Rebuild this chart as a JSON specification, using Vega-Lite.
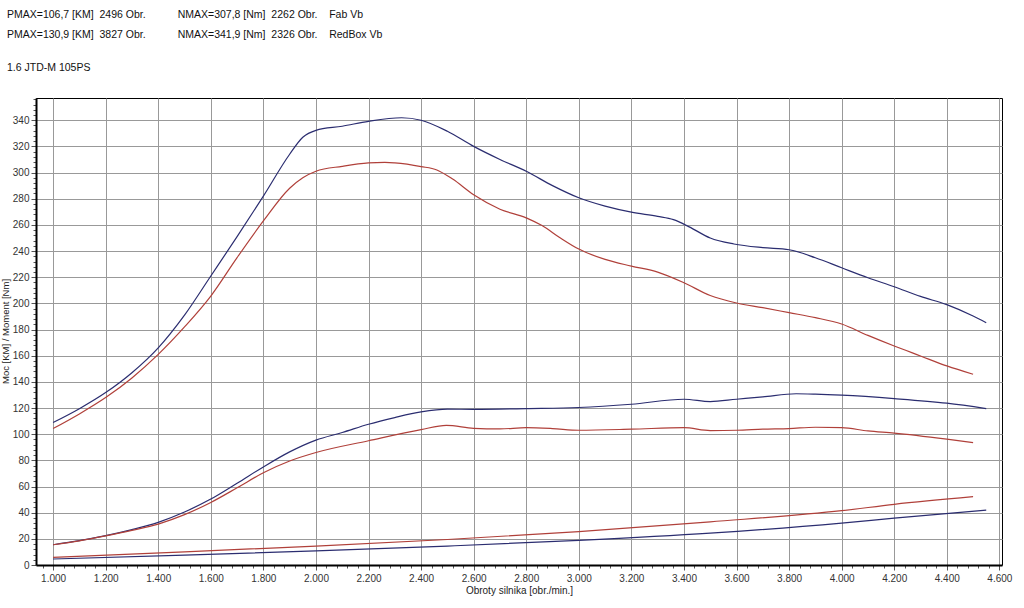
{
  "$schema": "https://vega.github.io/schema/vega-lite/v6.json",
  "width": 966,
  "height": 467,
  "autosize": {"type": "none"},
  "padding": {"left": 36, "top": 98, "right": 22, "bottom": 43},
  "background": "white",
  "config": {
    "font": "Liberation Sans",
    "view": {"stroke": "#000000", "strokeWidth": 1}
  },
  "title": {
    "text": [
      "PMAX=106,7 [KM]\u00a0\u00a02496 Obr.\u00a0\u00a0\u00a0\u00a0\u00a0\u00a0\u00a0\u00a0\u00a0\u00a0\u00a0NMAX=307,8 [Nm]\u00a0\u00a02262 Obr.\u00a0\u00a0\u00a0\u00a0Fab Vb",
      "PMAX=130,9 [KM]\u00a0\u00a03827 Obr.\u00a0\u00a0\u00a0\u00a0\u00a0\u00a0\u00a0\u00a0\u00a0\u00a0\u00a0NMAX=341,9 [Nm]\u00a0\u00a02326 Obr.\u00a0\u00a0\u00a0\u00a0RedBox Vb"
    ],
    "subtitle": "1.6 JTD-M 105PS",
    "anchor": "start",
    "frame": "group",
    "dx": -29,
    "offset": 21,
    "font": "Liberation Sans",
    "fontSize": 10.5,
    "fontWeight": "normal",
    "color": "#111111",
    "lineHeight": 20,
    "subtitleFont": "Liberation Sans",
    "subtitleFontSize": 10.5,
    "subtitleColor": "#111111",
    "subtitlePadding": 22
  },
  "data": {
    "values": [
      {"rpm": 1000, "v": 108.9, "car": "RedBox Vb", "curve": "Moment"},
      {"rpm": 1100, "v": 119.5, "car": "RedBox Vb", "curve": "Moment"},
      {"rpm": 1200, "v": 131.8, "car": "RedBox Vb", "curve": "Moment"},
      {"rpm": 1300, "v": 147, "car": "RedBox Vb", "curve": "Moment"},
      {"rpm": 1400, "v": 166, "car": "RedBox Vb", "curve": "Moment"},
      {"rpm": 1500, "v": 191, "car": "RedBox Vb", "curve": "Moment"},
      {"rpm": 1600, "v": 220.9, "car": "RedBox Vb", "curve": "Moment"},
      {"rpm": 1700, "v": 251, "car": "RedBox Vb", "curve": "Moment"},
      {"rpm": 1800, "v": 282, "car": "RedBox Vb", "curve": "Moment"},
      {"rpm": 1900, "v": 314, "car": "RedBox Vb", "curve": "Moment"},
      {"rpm": 1950, "v": 327, "car": "RedBox Vb", "curve": "Moment"},
      {"rpm": 2000, "v": 332.3, "car": "RedBox Vb", "curve": "Moment"},
      {"rpm": 2100, "v": 335.4, "car": "RedBox Vb", "curve": "Moment"},
      {"rpm": 2200, "v": 339.2, "car": "RedBox Vb", "curve": "Moment"},
      {"rpm": 2326, "v": 341.9, "car": "RedBox Vb", "curve": "Moment"},
      {"rpm": 2400, "v": 340, "car": "RedBox Vb", "curve": "Moment"},
      {"rpm": 2500, "v": 331.6, "car": "RedBox Vb", "curve": "Moment"},
      {"rpm": 2600, "v": 320, "car": "RedBox Vb", "curve": "Moment"},
      {"rpm": 2700, "v": 310, "car": "RedBox Vb", "curve": "Moment"},
      {"rpm": 2800, "v": 301, "car": "RedBox Vb", "curve": "Moment"},
      {"rpm": 2900, "v": 290, "car": "RedBox Vb", "curve": "Moment"},
      {"rpm": 3000, "v": 280.7, "car": "RedBox Vb", "curve": "Moment"},
      {"rpm": 3100, "v": 274.3, "car": "RedBox Vb", "curve": "Moment"},
      {"rpm": 3200, "v": 269.7, "car": "RedBox Vb", "curve": "Moment"},
      {"rpm": 3300, "v": 266.5, "car": "RedBox Vb", "curve": "Moment"},
      {"rpm": 3360, "v": 264, "car": "RedBox Vb", "curve": "Moment"},
      {"rpm": 3420, "v": 258.5, "car": "RedBox Vb", "curve": "Moment"},
      {"rpm": 3500, "v": 250, "car": "RedBox Vb", "curve": "Moment"},
      {"rpm": 3590, "v": 245.4, "car": "RedBox Vb", "curve": "Moment"},
      {"rpm": 3700, "v": 242.6, "car": "RedBox Vb", "curve": "Moment"},
      {"rpm": 3800, "v": 241, "car": "RedBox Vb", "curve": "Moment"},
      {"rpm": 3900, "v": 234.9, "car": "RedBox Vb", "curve": "Moment"},
      {"rpm": 4000, "v": 227.2, "car": "RedBox Vb", "curve": "Moment"},
      {"rpm": 4100, "v": 219.6, "car": "RedBox Vb", "curve": "Moment"},
      {"rpm": 4200, "v": 212.7, "car": "RedBox Vb", "curve": "Moment"},
      {"rpm": 4300, "v": 205.3, "car": "RedBox Vb", "curve": "Moment"},
      {"rpm": 4400, "v": 199, "car": "RedBox Vb", "curve": "Moment"},
      {"rpm": 4500, "v": 190.3, "car": "RedBox Vb", "curve": "Moment"},
      {"rpm": 4550, "v": 185.2, "car": "RedBox Vb", "curve": "Moment"},

      {"rpm": 1000, "v": 104.3, "car": "Fab Vb", "curve": "Moment"},
      {"rpm": 1100, "v": 115.5, "car": "Fab Vb", "curve": "Moment"},
      {"rpm": 1200, "v": 128, "car": "Fab Vb", "curve": "Moment"},
      {"rpm": 1300, "v": 143, "car": "Fab Vb", "curve": "Moment"},
      {"rpm": 1400, "v": 161, "car": "Fab Vb", "curve": "Moment"},
      {"rpm": 1500, "v": 182, "car": "Fab Vb", "curve": "Moment"},
      {"rpm": 1600, "v": 205.6, "car": "Fab Vb", "curve": "Moment"},
      {"rpm": 1700, "v": 235, "car": "Fab Vb", "curve": "Moment"},
      {"rpm": 1800, "v": 263, "car": "Fab Vb", "curve": "Moment"},
      {"rpm": 1900, "v": 288, "car": "Fab Vb", "curve": "Moment"},
      {"rpm": 1950, "v": 296, "car": "Fab Vb", "curve": "Moment"},
      {"rpm": 2000, "v": 301, "car": "Fab Vb", "curve": "Moment"},
      {"rpm": 2100, "v": 304.8, "car": "Fab Vb", "curve": "Moment"},
      {"rpm": 2200, "v": 307.4, "car": "Fab Vb", "curve": "Moment"},
      {"rpm": 2262, "v": 307.8, "car": "Fab Vb", "curve": "Moment"},
      {"rpm": 2300, "v": 307.4, "car": "Fab Vb", "curve": "Moment"},
      {"rpm": 2400, "v": 304.6, "car": "Fab Vb", "curve": "Moment"},
      {"rpm": 2460, "v": 302, "car": "Fab Vb", "curve": "Moment"},
      {"rpm": 2520, "v": 295, "car": "Fab Vb", "curve": "Moment"},
      {"rpm": 2600, "v": 283, "car": "Fab Vb", "curve": "Moment"},
      {"rpm": 2700, "v": 272, "car": "Fab Vb", "curve": "Moment"},
      {"rpm": 2800, "v": 265.4, "car": "Fab Vb", "curve": "Moment"},
      {"rpm": 2860, "v": 259.5, "car": "Fab Vb", "curve": "Moment"},
      {"rpm": 2930, "v": 250, "car": "Fab Vb", "curve": "Moment"},
      {"rpm": 3000, "v": 241.5, "car": "Fab Vb", "curve": "Moment"},
      {"rpm": 3100, "v": 233.6, "car": "Fab Vb", "curve": "Moment"},
      {"rpm": 3200, "v": 228.5, "car": "Fab Vb", "curve": "Moment"},
      {"rpm": 3300, "v": 223.9, "car": "Fab Vb", "curve": "Moment"},
      {"rpm": 3400, "v": 215.8, "car": "Fab Vb", "curve": "Moment"},
      {"rpm": 3500, "v": 206, "car": "Fab Vb", "curve": "Moment"},
      {"rpm": 3600, "v": 200.3, "car": "Fab Vb", "curve": "Moment"},
      {"rpm": 3700, "v": 196.7, "car": "Fab Vb", "curve": "Moment"},
      {"rpm": 3800, "v": 192.9, "car": "Fab Vb", "curve": "Moment"},
      {"rpm": 3900, "v": 189.1, "car": "Fab Vb", "curve": "Moment"},
      {"rpm": 4000, "v": 184.2, "car": "Fab Vb", "curve": "Moment"},
      {"rpm": 4100, "v": 175.5, "car": "Fab Vb", "curve": "Moment"},
      {"rpm": 4200, "v": 167.4, "car": "Fab Vb", "curve": "Moment"},
      {"rpm": 4300, "v": 159.8, "car": "Fab Vb", "curve": "Moment"},
      {"rpm": 4400, "v": 152.2, "car": "Fab Vb", "curve": "Moment"},
      {"rpm": 4500, "v": 145.8, "car": "Fab Vb", "curve": "Moment"},

      {"rpm": 1000, "v": 15.5, "car": "RedBox Vb", "curve": "Moc"},
      {"rpm": 1100, "v": 18.6, "car": "RedBox Vb", "curve": "Moc"},
      {"rpm": 1200, "v": 22.4, "car": "RedBox Vb", "curve": "Moc"},
      {"rpm": 1300, "v": 27, "car": "RedBox Vb", "curve": "Moc"},
      {"rpm": 1400, "v": 32.6, "car": "RedBox Vb", "curve": "Moc"},
      {"rpm": 1500, "v": 40.5, "car": "RedBox Vb", "curve": "Moc"},
      {"rpm": 1600, "v": 50.4, "car": "RedBox Vb", "curve": "Moc"},
      {"rpm": 1700, "v": 62.5, "car": "RedBox Vb", "curve": "Moc"},
      {"rpm": 1800, "v": 75, "car": "RedBox Vb", "curve": "Moc"},
      {"rpm": 1900, "v": 86.5, "car": "RedBox Vb", "curve": "Moc"},
      {"rpm": 2000, "v": 95.5, "car": "RedBox Vb", "curve": "Moc"},
      {"rpm": 2100, "v": 101.3, "car": "RedBox Vb", "curve": "Moc"},
      {"rpm": 2200, "v": 107.6, "car": "RedBox Vb", "curve": "Moc"},
      {"rpm": 2300, "v": 112.7, "car": "RedBox Vb", "curve": "Moc"},
      {"rpm": 2400, "v": 117, "car": "RedBox Vb", "curve": "Moc"},
      {"rpm": 2500, "v": 119.1, "car": "RedBox Vb", "curve": "Moc"},
      {"rpm": 2600, "v": 119, "car": "RedBox Vb", "curve": "Moc"},
      {"rpm": 2800, "v": 119.6, "car": "RedBox Vb", "curve": "Moc"},
      {"rpm": 3000, "v": 120.4, "car": "RedBox Vb", "curve": "Moc"},
      {"rpm": 3200, "v": 122.9, "car": "RedBox Vb", "curve": "Moc"},
      {"rpm": 3400, "v": 126.7, "car": "RedBox Vb", "curve": "Moc"},
      {"rpm": 3500, "v": 124.9, "car": "RedBox Vb", "curve": "Moc"},
      {"rpm": 3600, "v": 126.7, "car": "RedBox Vb", "curve": "Moc"},
      {"rpm": 3700, "v": 128.5, "car": "RedBox Vb", "curve": "Moc"},
      {"rpm": 3827, "v": 130.9, "car": "RedBox Vb", "curve": "Moc"},
      {"rpm": 3900, "v": 130.6, "car": "RedBox Vb", "curve": "Moc"},
      {"rpm": 4000, "v": 129.8, "car": "RedBox Vb", "curve": "Moc"},
      {"rpm": 4200, "v": 127.2, "car": "RedBox Vb", "curve": "Moc"},
      {"rpm": 4400, "v": 123.7, "car": "RedBox Vb", "curve": "Moc"},
      {"rpm": 4550, "v": 119.6, "car": "RedBox Vb", "curve": "Moc"},

      {"rpm": 1000, "v": 15.5, "car": "Fab Vb", "curve": "Moc"},
      {"rpm": 1100, "v": 18.5, "car": "Fab Vb", "curve": "Moc"},
      {"rpm": 1200, "v": 22.3, "car": "Fab Vb", "curve": "Moc"},
      {"rpm": 1300, "v": 26.5, "car": "Fab Vb", "curve": "Moc"},
      {"rpm": 1400, "v": 31.3, "car": "Fab Vb", "curve": "Moc"},
      {"rpm": 1500, "v": 38.5, "car": "Fab Vb", "curve": "Moc"},
      {"rpm": 1600, "v": 47.8, "car": "Fab Vb", "curve": "Moc"},
      {"rpm": 1700, "v": 59, "car": "Fab Vb", "curve": "Moc"},
      {"rpm": 1800, "v": 70.5, "car": "Fab Vb", "curve": "Moc"},
      {"rpm": 1900, "v": 79.5, "car": "Fab Vb", "curve": "Moc"},
      {"rpm": 2000, "v": 86, "car": "Fab Vb", "curve": "Moc"},
      {"rpm": 2200, "v": 95, "car": "Fab Vb", "curve": "Moc"},
      {"rpm": 2400, "v": 103.5, "car": "Fab Vb", "curve": "Moc"},
      {"rpm": 2496, "v": 106.7, "car": "Fab Vb", "curve": "Moc"},
      {"rpm": 2600, "v": 104.5, "car": "Fab Vb", "curve": "Moc"},
      {"rpm": 2700, "v": 104, "car": "Fab Vb", "curve": "Moc"},
      {"rpm": 2800, "v": 105, "car": "Fab Vb", "curve": "Moc"},
      {"rpm": 2900, "v": 104.3, "car": "Fab Vb", "curve": "Moc"},
      {"rpm": 3000, "v": 103, "car": "Fab Vb", "curve": "Moc"},
      {"rpm": 3200, "v": 103.8, "car": "Fab Vb", "curve": "Moc"},
      {"rpm": 3400, "v": 105, "car": "Fab Vb", "curve": "Moc"},
      {"rpm": 3500, "v": 102.8, "car": "Fab Vb", "curve": "Moc"},
      {"rpm": 3600, "v": 103, "car": "Fab Vb", "curve": "Moc"},
      {"rpm": 3700, "v": 103.8, "car": "Fab Vb", "curve": "Moc"},
      {"rpm": 3800, "v": 104.3, "car": "Fab Vb", "curve": "Moc"},
      {"rpm": 3900, "v": 105.3, "car": "Fab Vb", "curve": "Moc"},
      {"rpm": 4000, "v": 105, "car": "Fab Vb", "curve": "Moc"},
      {"rpm": 4100, "v": 102.5, "car": "Fab Vb", "curve": "Moc"},
      {"rpm": 4200, "v": 100.8, "car": "Fab Vb", "curve": "Moc"},
      {"rpm": 4400, "v": 96.2, "car": "Fab Vb", "curve": "Moc"},
      {"rpm": 4500, "v": 93.6, "car": "Fab Vb", "curve": "Moc"},

      {"rpm": 1000, "v": 5.9, "car": "Fab Vb", "curve": "Straty"},
      {"rpm": 1500, "v": 10, "car": "Fab Vb", "curve": "Straty"},
      {"rpm": 2000, "v": 14.5, "car": "Fab Vb", "curve": "Straty"},
      {"rpm": 2500, "v": 19.5, "car": "Fab Vb", "curve": "Straty"},
      {"rpm": 3000, "v": 25.5, "car": "Fab Vb", "curve": "Straty"},
      {"rpm": 3500, "v": 33, "car": "Fab Vb", "curve": "Straty"},
      {"rpm": 4000, "v": 41.5, "car": "Fab Vb", "curve": "Straty"},
      {"rpm": 4200, "v": 46.4, "car": "Fab Vb", "curve": "Straty"},
      {"rpm": 4500, "v": 52.2, "car": "Fab Vb", "curve": "Straty"},

      {"rpm": 1000, "v": 4.6, "car": "RedBox Vb", "curve": "Straty"},
      {"rpm": 1500, "v": 7.5, "car": "RedBox Vb", "curve": "Straty"},
      {"rpm": 2000, "v": 10.8, "car": "RedBox Vb", "curve": "Straty"},
      {"rpm": 2500, "v": 14.5, "car": "RedBox Vb", "curve": "Straty"},
      {"rpm": 3000, "v": 18.8, "car": "RedBox Vb", "curve": "Straty"},
      {"rpm": 3500, "v": 24.3, "car": "RedBox Vb", "curve": "Straty"},
      {"rpm": 4000, "v": 32, "car": "RedBox Vb", "curve": "Straty"},
      {"rpm": 4200, "v": 35.8, "car": "RedBox Vb", "curve": "Straty"},
      {"rpm": 4550, "v": 42, "car": "RedBox Vb", "curve": "Straty"}
    ]
  },
  "mark": {"type": "line", "interpolate": "monotone", "strokeWidth": 1.2},
  "encoding": {
    "x": {
      "field": "rpm",
      "type": "quantitative",
      "scale": {"domain": [935, 4610], "nice": false, "zero": false},
      "axis": {
        "title": "Obroty silnika [obr./min.]",
        "titleFont": "Liberation Sans",
        "titleFontSize": 10,
        "titleFontWeight": "normal",
        "titleColor": "#222222",
        "titlePadding": 2,
        "values": [960,1000,1040,1080,1120,1160,1200,1240,1280,1320,1360,1400,1440,1480,1520,1560,1600,1640,1680,1720,1760,1800,1840,1880,1920,1960,2000,2040,2080,2120,2160,2200,2240,2280,2320,2360,2400,2440,2480,2520,2560,2600,2640,2680,2720,2760,2800,2840,2880,2920,2960,3000,3040,3080,3120,3160,3200,3240,3280,3320,3360,3400,3440,3480,3520,3560,3600,3640,3680,3720,3760,3800,3840,3880,3920,3960,4000,4040,4080,4120,4160,4200,4240,4280,4320,4360,4400,4440,4480,4520,4560,4600],
        "labelExpr": "datum.value % 200 === 0 ? replace(format(datum.value, ','), ',', '.') : ''",
        "labelOverlap": false,
        "labelFont": "Liberation Sans",
        "labelFontSize": 10,
        "labelColor": "#333333",
        "labelPadding": 3,
        "tickSize": {"condition": {"test": "datum.value % 200 === 0", "value": 5}, "value": 3},
        "tickColor": "#555555",
        "domainColor": "#000000",
        "domainWidth": 2,
        "grid": true,
        "gridColor": "#999999",
        "gridWidth": 1,
        "gridOpacity": {"condition": {"test": "datum.value % 200 === 0", "value": 1}, "value": 0}
      }
    },
    "y": {
      "field": "v",
      "type": "quantitative",
      "scale": {"domain": [0, 357], "nice": false},
      "axis": {
        "title": "Moc [KM] / Moment [Nm]",
        "titleFont": "Liberation Sans",
        "titleFontSize": 9.5,
        "titleFontWeight": "normal",
        "titleColor": "#222222",
        "titleX": -26,
        "titleY": 233,
        "values": [0,4,8,12,16,20,24,28,32,36,40,44,48,52,56,60,64,68,72,76,80,84,88,92,96,100,104,108,112,116,120,124,128,132,136,140,144,148,152,156,160,164,168,172,176,180,184,188,192,196,200,204,208,212,216,220,224,228,232,236,240,244,248,252,256,260,264,268,272,276,280,284,288,292,296,300,304,308,312,316,320,324,328,332,336,340,344,348,352,356],
        "labelExpr": "datum.value % 20 === 0 ? datum.value : ''",
        "labelOverlap": false,
        "labelFont": "Liberation Sans",
        "labelFontSize": 10,
        "labelColor": "#333333",
        "labelPadding": 2,
        "tickSize": {"condition": {"test": "datum.value % 20 === 0", "value": 5}, "value": 3},
        "tickColor": "#555555",
        "domainColor": "#000000",
        "domainWidth": 2,
        "grid": true,
        "gridColor": "#999999",
        "gridWidth": 1,
        "gridOpacity": {"condition": {"test": "datum.value % 20 === 0", "value": 1}, "value": 0}
      }
    },
    "color": {
      "field": "car",
      "type": "nominal",
      "scale": {"domain": ["Fab Vb", "RedBox Vb"], "range": ["#b0403a", "#2b2d70"]},
      "legend": null
    },
    "detail": {"field": "curve", "type": "nominal"}
  }
}
